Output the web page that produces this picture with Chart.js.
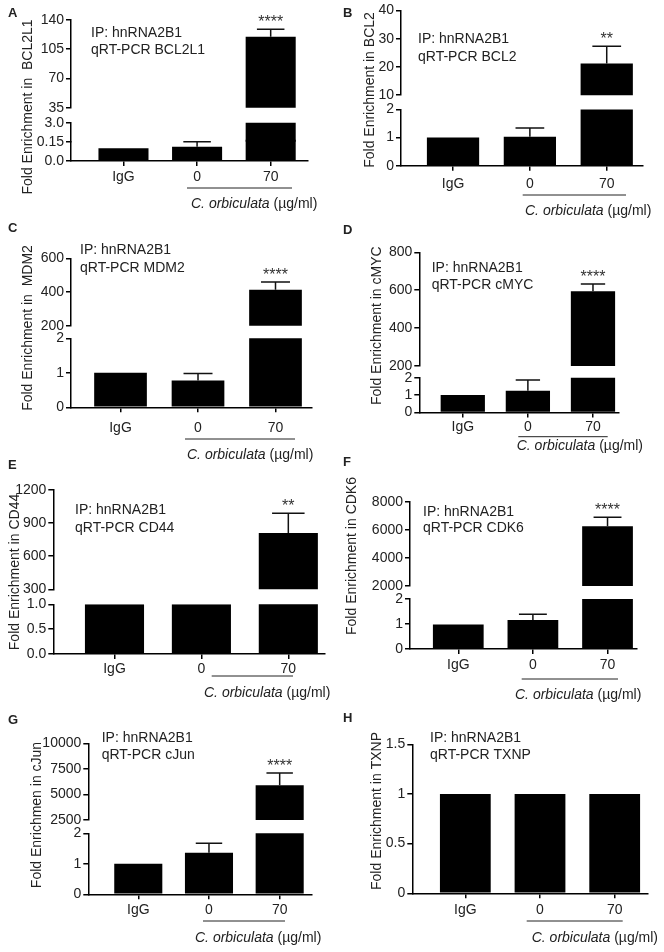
<!DOCTYPE html>
<html>
<head>
<meta charset="utf-8">
<script src="https://cdn.jsdelivr.net/npm/chart.js@4.4.1/dist/chart.umd.min.js"></script>
<style>
  body { margin: 0; background: #fff; width: 664px; height: 952px; position: relative; overflow: hidden; }
  canvas { position: absolute; }
</style>
</head>
<body>
<script>
// ===== data =====
const categories = ['IgG', '0', '70'];
const ipLabel = 'IP: hnRNA2B1';
const groupName = 'C. orbiculata';
const groupUnit = ' (µg/ml)';

// A - BCL2L1
const bcl2l1Mean = [0.1, 0.11, 120];
const bcl2l1Sem = [0, 0.04, 9];
const bcl2l1Sig = ['', '', '****'];
const bcl2l1TicksTop = ['35', '70', '105', '140'];
const bcl2l1TicksMid = ['3.0'];
const bcl2l1TicksLow = ['0.0', '0.15'];

// B - BCL2
const bcl2Mean = [1, 1.03, 21.2];
const bcl2Sem = [0, 0.31, 6.1];
const bcl2Sig = ['', '', '**'];
const bcl2TicksTop = ['10', '20', '30', '40'];
const bcl2TicksLow = ['0', '1', '2'];

// C - MDM2
const mdm2Mean = [1, 0.78, 414];
const mdm2Sem = [0, 0.2, 45];
const mdm2Sig = ['', '', '****'];
const mdm2TicksTop = ['200', '400', '600'];
const mdm2TicksLow = ['0', '1', '2'];

// D - cMYC
const cmycMean = [1, 1.25, 595];
const cmycSem = [0, 0.62, 38];
const cmycSig = ['', '', '****'];
const cmycTicksTop = ['200', '400', '600', '800'];
const cmycTicksLow = ['0', '1', '2'];

// E - CD44
const cd44Mean = [1, 1, 810];
const cd44Sem = [0, 0, 180];
const cd44Sig = ['', '', '**'];
const cd44TicksTop = ['300', '600', '900', '1200'];
const cd44TicksLow = ['0.0', '0.5', '1.0'];

// F - CDK6
const cdk6Mean = [0.98, 1.16, 6250];
const cdk6Sem = [0, 0.23, 650];
const cdk6Sig = ['', '', '****'];
const cdk6TicksTop = ['2000', '4000', '6000', '8000'];
const cdk6TicksLow = ['0', '1', '2'];

// G - cJun
const cjunMean = [1, 1.36, 5900];
const cjunSem = [0, 0.31, 1200];
const cjunSig = ['', '', '****'];
const cjunTicksTop = ['2500', '5000', '7500', '10000'];
const cjunTicksLow = ['0', '1', '2'];

// H - TXNP
const txnpMean = [1, 1, 1];
const txnpSem = [0, 0, 0];
const txnpSig = ['', '', ''];
const txnpTicks = ['0', '0.5', '1', '1.5'];

// ===== layout =====
const FONT = '"Liberation Sans", Arial, sans-serif';
const TXT = '#222';
const AXW = 52, AXH = 30;

const panels = [
  { letter: 'A', gene: 'BCL2L1', title: 'Fold Enrichment in  BCL2L1', mean: bcl2l1Mean, sem: bcl2l1Sem, sig: bcl2l1Sig,
    box: [0, 0, 332, 225], x0: 71, x1: 308, xmin: 0.287, xmax: 3.507, yTop: 20, yBot: 161,
    segs: [{ min: 35, max: 140, h: 87.7, ticks: bcl2l1TicksTop }, { gap: 15 },
           { min: 0.15, max: 3, h: 19, ticks: bcl2l1TicksMid }, { min: 0, max: 0.15, h: 19.3, ticks: bcl2l1TicksLow }],
    letterPos: [12, 13], titlePos: [28, 107], notes: [91, 33, 50], tickPad: 3, line: [188, 187, 292], group: [191, 204] },
  { letter: 'B', gene: 'BCL2', title: 'Fold Enrichment in BCL2', mean: bcl2Mean, sem: bcl2Sem, sig: bcl2Sig,
    box: [330, 0, 334, 225], x0: 401, x1: 643, xmin: 0.323, xmax: 3.472, yTop: 10, yBot: 165.7,
    segs: [{ min: 10, max: 40, h: 85, ticks: bcl2TicksTop }, { gap: 14.3 }, { min: 0, max: 2, h: 56.4, ticks: bcl2TicksLow }],
    letterPos: [347, 13], titlePos: [370, 90], notes: [418, 39, 57], tickPad: 5.3, line: [195, 522.7, 626], group: [525, 211] },
  { letter: 'C', gene: 'MDM2', title: 'Fold Enrichment in  MDM2', mean: mdm2Mean, sem: mdm2Sem, sig: mdm2Sig,
    box: [0, 220, 332, 245], x0: 71, x1: 312, xmin: 0.361, xmax: 3.471, yTop: 258.3, yBot: 407.3,
    segs: [{ min: 200, max: 600, h: 67.4, ticks: mdm2TicksTop }, { gap: 12.6 }, { min: 0, max: 2, h: 69, ticks: mdm2TicksLow }],
    letterPos: [12, 228], titlePos: [28, 328], notes: [80, 250, 268], tickPad: 7.4, line: [439, 185, 295], group: [187, 455] },
  { letter: 'D', gene: 'cMYC', title: 'Fold Enrichment in cMYC', mean: cmycMean, sem: cmycSem, sig: cmycSig,
    box: [330, 220, 334, 245], x0: 419.3, x1: 618.3, xmin: 0.332, xmax: 3.389, yTop: 252.3, yBot: 412.5,
    segs: [{ min: 200, max: 800, h: 113.7, ticks: cmycTicksTop }, { gap: 11.7 }, { min: 0, max: 2, h: 34.8, ticks: cmycTicksLow }],
    letterPos: [347, 230], titlePos: [376.7, 325.7], notes: [431.7, 268.3, 285], tickPad: 1.5, line: [436.7, 518.3, 607.7], group: [516.7, 445.7] },
  { letter: 'E', gene: 'CD44', title: 'Fold Enrichment in CD44', mean: cd44Mean, sem: cd44Sem, sig: cd44Sig,
    box: [0, 457, 332, 248], x0: 53.3, x1: 325, xmin: 0.296, xmax: 3.422, yTop: 490, yBot: 654,
    segs: [{ min: 300, max: 1200, h: 99.3, ticks: cd44TicksTop }, { gap: 15 }, { min: 0, max: 1, h: 49.7, ticks: cd44TicksLow }],
    letterPos: [12, 465], titlePos: [15, 572], notes: [75, 510, 528], tickPad: 2, line: [676, 211.7, 293], group: [204, 693] },
  { letter: 'F', gene: 'CDK6', title: 'Fold Enrichment in CDK6', mean: cdk6Mean, sem: cdk6Sem, sig: cdk6Sig,
    box: [330, 455, 334, 250], x0: 410, x1: 637, xmin: 0.353, xmax: 3.395, yTop: 501.7, yBot: 649,
    segs: [{ min: 2000, max: 8000, h: 84.3, ticks: cdk6TicksTop }, { gap: 13 }, { min: 0, max: 2, h: 50, ticks: cdk6TicksLow }],
    letterPos: [347, 462], titlePos: [352, 556], notes: [423, 511.7, 528], tickPad: 3, line: [679, 521.7, 618], group: [515, 695] },
  { letter: 'G', gene: 'cJun', title: 'Fold Enrichmen in cJun', mean: cjunMean, sem: cjunSem, sig: cjunSig,
    box: [0, 705, 332, 247], x0: 88.3, x1: 311.7, xmin: 0.293, xmax: 3.453, yTop: 743.3, yBot: 894.3,
    segs: [{ min: 2500, max: 10000, h: 76.7, ticks: cjunTicksTop }, { gap: 13.3 }, { min: 0, max: 2, h: 61, ticks: cjunTicksLow }],
    letterPos: [12, 720], titlePos: [36.7, 815], notes: [101.7, 738, 755], tickPad: 2.7, line: [921, 203, 285], group: [195, 937.7] },
  { letter: 'H', gene: 'TXNP', title: 'Fold Enrichment in TXNP', mean: txnpMean, sem: txnpSem, sig: txnpSig,
    box: [330, 705, 334, 247], x0: 412.3, x1: 648, xmin: 0.29, xmax: 3.446, yTop: 744.3, yBot: 893.3,
    segs: [{ min: 0, max: 1.5, h: 149, ticks: txnpTicks }],
    letterPos: [347, 718], titlePos: [376.7, 811], notes: [430, 738, 755], tickPad: 3.7, line: [921, 526.7, 622.7], group: [531.7, 937.7] }
];

// ===== per-panel drawing: clip bars to their axis segment, error bars, labels =====
function decor(p, segIds) {
  const findScale = (chart, v) => {
    const s = segIds.find(s => v >= s.min && v <= s.max) || segIds[0];
    return chart.scales[s.id];
  };
  return {
    id: 'decor' + p.letter,
    beforeDatasetDraw(chart, args) {
      const ys = args.meta.yScale, a = chart.chartArea, ctx = chart.ctx;
      const seg = segIds.find(s => s.id === ys.id);
      // a segment glued to the one above (no break) reaches a little into it, so no seam shows
      const t = seg.joinTop ? 2 : 0;
      ctx.save();
      ctx.beginPath();
      ctx.rect(a.left, ys.top - t, a.right - a.left, ys.bottom - ys.top + t);
      ctx.clip();
    },
    afterDatasetDraw(chart) { chart.ctx.restore(); },
    afterDraw(chart) {
      const ctx = chart.ctx;
      const ox = p.box[0], oy = p.box[1];
      const xs = chart.scales.x;
      const bars = chart.getDatasetMeta(0).data;

      // error bars + significance
      ctx.save();
      ctx.strokeStyle = '#111';
      ctx.lineWidth = 1.5;
      p.mean.forEach((m, i) => {
        const e = p.sem[i];
        const cx = xs.getPixelForValue(i + 1);
        const capW = bars[i].width * 0.55;
        let yT = findScale(chart, m).getPixelForValue(m);
        if (e > 0) {
          const yM = yT;
          yT = findScale(chart, m + e).getPixelForValue(m + e);
          ctx.beginPath();
          ctx.moveTo(cx, yM); ctx.lineTo(cx, yT);
          ctx.moveTo(cx - capW / 2, yT); ctx.lineTo(cx + capW / 2, yT);
          ctx.stroke();
        }
        if (p.sig[i]) {
          ctx.fillStyle = '#333';
          ctx.font = '16px ' + FONT;
          ctx.textAlign = 'center';
          ctx.textBaseline = 'alphabetic';
          ctx.fillText(p.sig[i], cx, yT - 2);
        }
      });
      ctx.restore();

      ctx.save();
      ctx.fillStyle = TXT;
      // panel letter
      ctx.font = 'bold 13px ' + FONT;
      ctx.textAlign = 'left';
      ctx.textBaseline = 'middle';
      ctx.fillText(p.letter, p.letterPos[0] - ox - 4, p.letterPos[1] - oy);

      // notes
      ctx.font = '14px ' + FONT;
      ctx.fillText(ipLabel, p.notes[0] - ox, p.notes[1] - oy);
      ctx.fillText('qRT-PCR ' + p.gene, p.notes[0] - ox, p.notes[2] - oy);

      // y title
      ctx.save();
      ctx.translate(p.titlePos[0] - ox, p.titlePos[1] - oy);
      ctx.rotate(-Math.PI / 2);
      ctx.textAlign = 'center';
      ctx.fillText(p.title, 0, 0);
      ctx.restore();

      // group underline + label
      ctx.strokeStyle = '#222';
      ctx.lineWidth = 1;
      ctx.beginPath();
      ctx.moveTo(p.line[1] - ox, p.line[0] - oy);
      ctx.lineTo(p.line[2] - ox, p.line[0] - oy);
      ctx.stroke();
      ctx.textAlign = 'left';
      ctx.font = 'italic 14px ' + FONT;
      ctx.fillText(groupName, p.group[0] - ox, p.group[1] - oy);
      const w = ctx.measureText(groupName).width;
      ctx.font = '14px ' + FONT;
      ctx.fillText(groupUnit, p.group[0] - ox + w, p.group[1] - oy);
      ctx.restore();
    }
  };
}

function buildPanel(p) {
  const [bl, bt, bw, bh] = p.box;
  const cv = document.createElement('canvas');
  cv.width = bw; cv.height = bh;
  cv.style.left = bl + 'px'; cv.style.top = bt + 'px';
  document.body.appendChild(cv);

  const scales = {};
  const datasets = [];
  const segIds = [];
  const segs = p.segs.slice().reverse();
  // bottom segment first: the last scale of a stack is laid out on top
  segs.forEach((s, k) => {
    const id = 'y' + k;
    if (s.gap) {
      scales[id] = {
        type: 'linear', position: 'left', stack: 'v', stackWeight: s.gap, min: 0, max: 1,
        grid: { display: false }, border: { display: false }, ticks: { display: false },
        afterFit: sc => { sc.width = AXW; }
      };
      return;
    }
    const vals = s.ticks.map(Number);
    segIds.unshift({ id, min: s.min, max: s.max,
                     joinTop: k < segs.length - 1 && !segs[k + 1].gap });
    scales[id] = {
      type: 'linear', position: 'left', stack: 'v', stackWeight: s.h, min: s.min, max: s.max, bounds: 'data',
      grid: { display: true, drawOnChartArea: false, tickLength: 5, color: '#000', lineWidth: 1.5 },
      border: { display: true, color: '#000', width: 1.5 },
      ticks: { font: { family: FONT, size: 14 }, color: TXT, padding: 2, autoSkip: false,
               callback: v => s.ticks[vals.indexOf(v)] },
      afterBuildTicks: sc => { sc.ticks = vals.map(v => ({ value: v })); },
      afterFit: sc => { sc.width = AXW; }
    };
    datasets.push({
      yAxisID: id,
      data: p.mean.map((v, i) => ({ x: i + 1, y: v })),
      backgroundColor: '#000',
      grouped: false,
      barPercentage: 0.68,
      categoryPercentage: 1,
      clip: 3
    });
  });

  scales.x = {
    type: 'linear', position: 'bottom', min: p.xmin, max: p.xmax, bounds: 'data', offset: false,
    grid: { display: true, offset: false, drawOnChartArea: false, tickLength: 5, color: '#000', lineWidth: 1.5 },
    border: { display: true, color: '#000', width: 1.5 },
    ticks: { font: { family: FONT, size: 14 }, color: TXT, padding: p.tickPad, autoSkip: false, maxRotation: 0,
             callback: v => categories[v - 1] },
    afterBuildTicks: sc => { sc.ticks = categories.map((c, i) => ({ value: i + 1 })); },
    afterFit: sc => { sc.height = AXH; }
  };

  new Chart(cv, {
    type: 'bar',
    data: { datasets },
    options: {
      responsive: false,
      animation: false,
      layout: { padding: { left: p.x0 - bl - AXW, right: bl + bw - p.x1, top: p.yTop - bt, bottom: bt + bh - p.yBot - AXH } },
      plugins: { legend: { display: false }, tooltip: { enabled: false } },
      scales
    },
    plugins: [decor(p, segIds)]
  });
}

panels.forEach(buildPanel);
</script>
</body>
</html>
